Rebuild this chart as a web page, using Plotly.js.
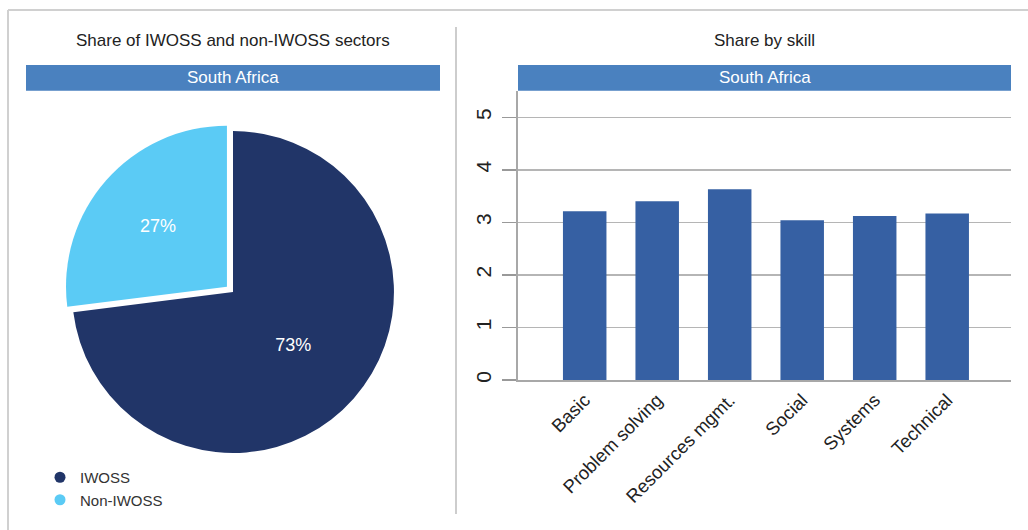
<!DOCTYPE html>
<html>
<head>
<meta charset="utf-8">
<script src="https://cdn.plot.ly/plotly-3.0.1.min.js"></script>
<style>
html,body{margin:0;padding:0;background:#fff;}
#chart{width:1028px;height:530px;}
</style>
</head>
<body>
<div id="chart"></div>
<script>
// ---- data ----
const sectorLabels = ["IWOSS", "Non-IWOSS"];
const sectorShares = [73, 27];
const skills = ["Basic", "Problem solving", "Resources mgmt.", "Social", "Systems", "Technical"];
const skillValues = [3.21, 3.40, 3.63, 3.04, 3.12, 3.17];
const yTicks = [0, 1, 2, 3, 4, 5];
const leftTitle = "Share of IWOSS and non-IWOSS sectors";
const rightTitle = "Share by skill";
const countryName = "South Africa";

// ---- helpers (pixel -> paper) ----
const W = 1028, H = 530;
const px = v => v / W;
const py = v => 1 - v / H;

const FONT = '"Liberation Sans", Arial, sans-serif';
const pieColors = ["#213568", "#5bcbf5"];
const bandColor = "#4a81bf";
const barColor = "#3660a3";

const traces = [
  {
    type: "pie",
    labels: sectorLabels,
    values: sectorShares,
    sort: false,
    direction: "clockwise",
    rotation: 0,
    pull: [0, 0.05],
    marker: {colors: pieColors, line: {width: 0}},
    textinfo: "percent",
    textposition: "inside",
    insidetextorientation: "horizontal",
    textfont: {family: FONT, size: 18, color: "#ffffff"},
    domain: {x: [px(64), px(402)], y: [py(461), py(123)]},
    showlegend: false,
    hoverinfo: "label+percent"
  },
  {
    type: "bar",
    x: skills,
    y: skillValues,
    marker: {color: barColor},
    width: 0.6,
    showlegend: false,
    xaxis: "x",
    yaxis: "y"
  }
];
// legend entries (circle markers) for the pie sectors
sectorLabels.forEach((lab, i) => {
  traces.push({
    type: "scatter",
    mode: "markers",
    x: [null], y: [null],
    name: lab,
    marker: {color: pieColors[i], size: 11, symbol: "circle"},
    showlegend: true,
    hoverinfo: "skip"
  });
});

const layout = {
  width: W, height: H,
  margin: {l: 0, r: 0, t: 0, b: 0},
  paper_bgcolor: "#ffffff",
  plot_bgcolor: "#ffffff",
  font: {family: FONT, color: "#222222"},
  xaxis: {
    domain: [px(518), px(1011)],
    range: [-0.92, 5.88],
    type: "category",
    tickangle: -45,
    tickfont: {family: FONT, size: 18.5, color: "#222"},
    showline: true, linecolor: "#a8a8a8", linewidth: 2,
    showgrid: false, zeroline: false,
    ticks: "", fixedrange: true
  },
  yaxis: {
    domain: [py(380), py(91)],
    range: [0, 5.5],
    tickvals: yTicks,
    tickangle: -90,
    tickfont: {family: FONT, size: 21, color: "#222"},
    ticks: "outside", ticklen: 14, tickcolor: "#999", tickwidth: 1.5,
    ticklabelstandoff: 3,
    showline: true, linecolor: "#a8a8a8", linewidth: 2,
    showgrid: true, gridcolor: "#b5b5b5", gridwidth: 1.5,
    zeroline: false, fixedrange: true
  },
  legend: {
    x: px(40), y: py(461), xanchor: "left", yanchor: "top",
    font: {family: FONT, size: 15, color: "#333"},
    itemwidth: 30,
    tracegroupgap: 0,
    bgcolor: "rgba(0,0,0,0)"
  },
  shapes: [
    // outer frame
    {type: "line", xref: "paper", yref: "paper", x0: px(8), x1: px(1040), y0: py(10), y1: py(10), line: {color: "#d0d0d0", width: 2}},
    {type: "line", xref: "paper", yref: "paper", x0: px(8), x1: px(8), y0: py(10), y1: py(540), line: {color: "#d0d0d0", width: 2}},
    // divider
    {type: "line", xref: "paper", yref: "paper", x0: px(456), x1: px(456), y0: py(27), y1: py(514), line: {color: "#bdbdbd", width: 1.5}},
    // bands
    {type: "rect", xref: "paper", yref: "paper", x0: px(26), x1: px(440), y0: py(90.7), y1: py(65), fillcolor: bandColor, line: {width: 0}, layer: "above"},
    {type: "rect", xref: "paper", yref: "paper", x0: px(518), x1: px(1011), y0: py(90.7), y1: py(65), fillcolor: bandColor, line: {width: 0}, layer: "above"}
  ],
  annotations: [
    {text: leftTitle, xref: "paper", yref: "paper", x: px(233), y: py(41), xanchor: "center", yanchor: "middle", showarrow: false, font: {family: FONT, size: 17, color: "#222"}},
    {text: rightTitle, xref: "paper", yref: "paper", x: px(764), y: py(41), xanchor: "center", yanchor: "middle", showarrow: false, font: {family: FONT, size: 17, color: "#222"}},
    {text: countryName, xref: "paper", yref: "paper", x: px(233), y: py(78), xanchor: "center", yanchor: "middle", showarrow: false, font: {family: FONT, size: 17, color: "#ffffff"}},
    {text: countryName, xref: "paper", yref: "paper", x: px(764.5), y: py(78), xanchor: "center", yanchor: "middle", showarrow: false, font: {family: FONT, size: 17, color: "#ffffff"}}
  ]
};

Plotly.newPlot("chart", traces, layout, {displayModeBar: false, staticPlot: true});
</script>
</body>
</html>
